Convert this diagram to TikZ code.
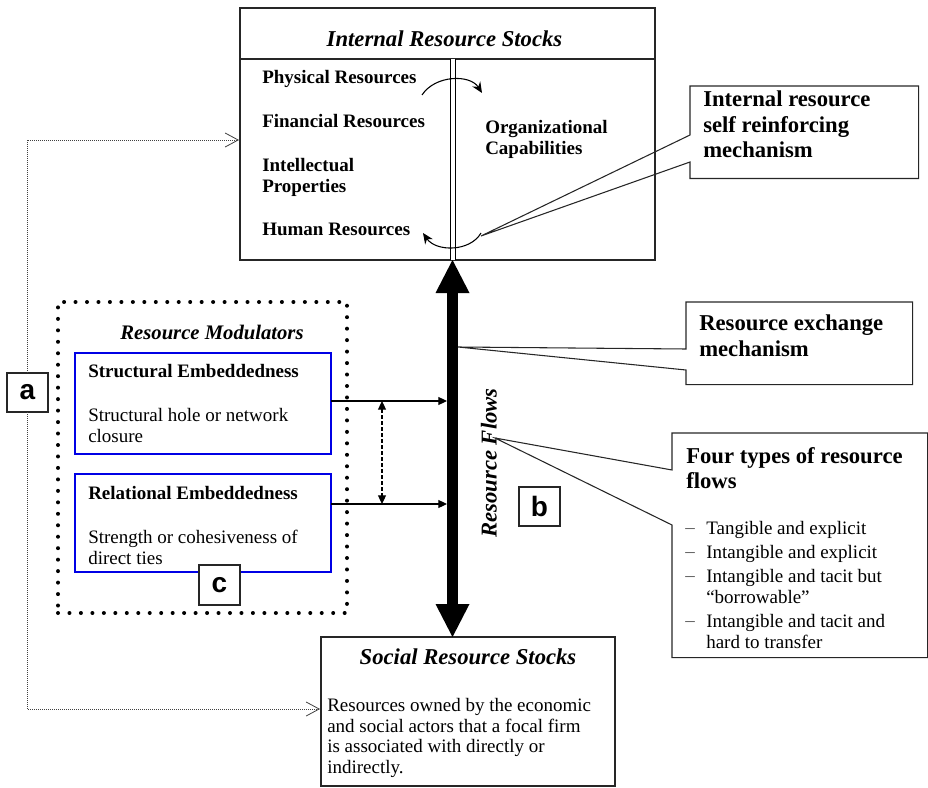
\documentclass[tikz,border=0pt]{standalone}
\usepackage{fontspec}
\setmainfont{Liberation Serif}
\setsansfont{Liberation Sans}
\usetikzlibrary{arrows.meta,calc}

\begin{document}
\begin{tikzpicture}[x=0.75pt,y=-0.75pt,
    caja/.style={draw=black!85,line width=0.8pt,inner sep=0pt,outer sep=0pt},
    cajaazul/.style={caja,draw=azul},
    letra/.style={caja,fill=white,minimum width=30.75pt,minimum height=29.25pt,font=\sffamily\bfseries\fontsize{21}{21}\selectfont},
    txt/.style={anchor=north west,inner sep=0pt,align=left,font=\fontsize{14.25}{16}\selectfont},
    neg/.style={txt,font=\bfseries\fontsize{14.25}{16}\selectfont},
    nota/.style={txt,font=\bfseries\fontsize{17}{19}\selectfont},
    tit/.style={inner sep=0pt,font=\bfseries\itshape\fontsize{17}{20}\selectfont},
    flecha/.style={line width=0.8pt,-{Triangle[length=6.5pt,width=6pt]}},
    punteado/.style={black!75,line width=0.6pt,dash pattern=on 0.7pt off 0.8pt,-{Straight Barb[length=9.75pt,width=10.5pt,line width=0.6pt]}},
    flujo/.style={line width=8.25pt,{Triangle[length=24.75pt,width=25.5pt,line width=0pt]}-{Triangle[length=24.75pt,width=25.5pt,line width=0pt]}}]
        %colores
        \colorlet{azul}{blue!90!black}
        \colorlet{gris}{black!65}
        \useasboundingbox (0,0) rectangle (928,788);

        % Cajas de stocks
        \node[caja,anchor=north west,minimum width=311.25pt,minimum height=189pt] (interna) at (240,8) {};
        \node[caja,anchor=north west,minimum width=220.5pt,minimum height=111.75pt] (social) at (321,637) {};
        \coordinate (eje) at (452.5,0);
        \coordinate (sep) at (0,59);
        \draw[caja] (interna.west |- sep) -- (interna.east |- sep);
        \draw[line width=0.75pt,double,double distance=3pt] (eje |- sep) -- (interna.south -| eje);
        \node[tit] (tinterna) at (444.5,39) {Internal Resource Stocks};
        \node[tit] (tsocial) at (468,657) {Social Resource Stocks};
        \node[txt,font=\fontsize{14.25}{15.5}\selectfont] (dsocial) at (327,698) {Resources owned by the economic\\and social actors that a focal firm\\is associated with directly or\\indirectly.};

        % Recursos internos
        \node[neg] (fisicos) at (262,70) {Physical Resources};
        \node[neg] (financieros) at (262,114) {Financial Resources};
        \node[neg] (intelectuales) at (262,158) {Intellectual\\Properties};
        \node[neg] (humanos) at (262,223) {Human Resources};
        \node[neg] (capacidades) at (485,120) {Organizational\\Capabilities};

        % Flechas curvas
        \coordinate (ca1) at (422,95);
        \coordinate (ca2) at (482,93);
        \coordinate (cb1) at (481,233);
        \coordinate (cb2) at (423,233);
        \draw[line width=0.8pt,-{Stealth[length=8pt,width=7pt]}] (ca1) .. controls (435,75) and (470,74) .. (ca2);
        \draw[line width=0.8pt,-{Stealth[length=8pt,width=7pt]}] (cb1) .. controls (470,252) and (436,252) .. (cb2);

        % Moduladores
        \node[caja,draw=black,line width=3pt,dash pattern=on 0pt off 8.6pt,line cap=round,anchor=north west,minimum width=216.75pt,minimum height=233.25pt] (moduladores) at (58,302) {};
        \node[tit,font=\bfseries\itshape\fontsize{15.5}{18}\selectfont] (tmod) at (212,332) {Resource Modulators};
        \node[cajaazul,anchor=north west,minimum width=192pt,minimum height=75.75pt] (estructural) at (75,353) {};
        \node[cajaazul,anchor=north west,minimum width=192pt,minimum height=73.5pt] (relacional) at (75,474) {};
        \node[neg] (test) at (88,364) {Structural Embeddedness};
        \node[txt] (dest) at (88,408) {Structural hole or network\\closure};
        \node[neg] (trel) at (88,486) {Relational Embeddedness};
        \node[txt] (drel) at (88,530) {Strength or cohesiveness of\\direct ties};

        % Flujos
        \draw[flujo] (interna.south -| eje) -- (social.north -| eje);
        \node[tit,rotate=90] (flujos) at (489,463) {Resource Flows};
        \coordinate (ejeL) at (447,0);
        \coordinate (s1) at ($(estructural.north east)+(0,48)$);
        \coordinate (s2) at ($(relacional.north east)+(0,30)$);
        \draw[flecha] (s1) -- (s1 -| ejeL);
        \draw[flecha] (s2) -- (s2 -| ejeL);
        \draw[line width=0.8pt,dash pattern=on 2.5pt off 2pt,{Triangle[length=6.5pt,width=6pt]}-{Triangle[length=6.5pt,width=6pt]}] ($(s1)+(51,0)$) -- ($(s2)+(51,0)$);

        % Llamadas
        \node[anchor=north west,inner sep=0pt,minimum width=171pt,minimum height=69pt] (llamada1) at (690,86) {};
        \coordinate (punta1) at (481,236);
        \draw[caja] (llamada1.north west) -- (llamada1.north east) -- (llamada1.south east) -- (llamada1.south west)
            -- ($(llamada1.north west)+(0,76)$) -- (punta1) -- ($(llamada1.north west)+(0,49)$) -- cycle;
        \node[nota] (tl1) at (703,91) {Internal resource\\self reinforcing\\mechanism};

        \node[anchor=north west,inner sep=0pt,minimum width=169.5pt,minimum height=61.5pt] (llamada2) at (686,302) {};
        \coordinate (punta2) at (458,347);
        \draw[caja] (llamada2.north west) -- (llamada2.north east) -- (llamada2.south east) -- (llamada2.south west)
            -- ($(llamada2.north west)+(0,68)$) -- (punta2) -- ($(llamada2.north west)+(0,47)$) -- cycle;
        \node[nota] (tl2) at (699,315) {Resource exchange\\mechanism};

        \node[anchor=north west,inner sep=0pt,minimum width=191.25pt,minimum height=168pt] (llamada3) at (672,433) {};
        \coordinate (punta3) at (495,438);
        \draw[caja] (llamada3.north west) -- (llamada3.north east) -- (llamada3.south east) -- (llamada3.south west)
            -- ($(llamada3.north west)+(0,92)$) -- (punta3) -- ($(llamada3.north west)+(0,37)$) -- cycle;
        \node[nota] (tl3) at (686,447) {Four types of resource\\flows};
        \foreach \y/\t in {521/Tangible and explicit,545/Intangible and explicit,569/{Intangible and tacit but\\“borrowable”},614/{Intangible and tacit and\\hard to transfer}}{
            \node[anchor=mid west,inner sep=0pt,text=gris,font=\fontsize{14.25}{16}\selectfont] (g\y) at (685,\y+9) {–};
            \node[txt] (t\y) at (706,\y) {\t};
        }

        % Letras y conectores punteados
        \node[letra] (a) at (27.5,392.5) {a};
        \node[letra] (b) at (539.5,506.5) {b};
        \node[letra,minimum height=30pt] (c) at (219.5,585) {c};
        \coordinate (ent1) at (239,140);
        \coordinate (ent2) at (320,709);
        \draw[punteado] (a.north) |- (ent1);
        \draw[punteado] (a.south) |- (ent2);
    \end{tikzpicture}
\end{document}
